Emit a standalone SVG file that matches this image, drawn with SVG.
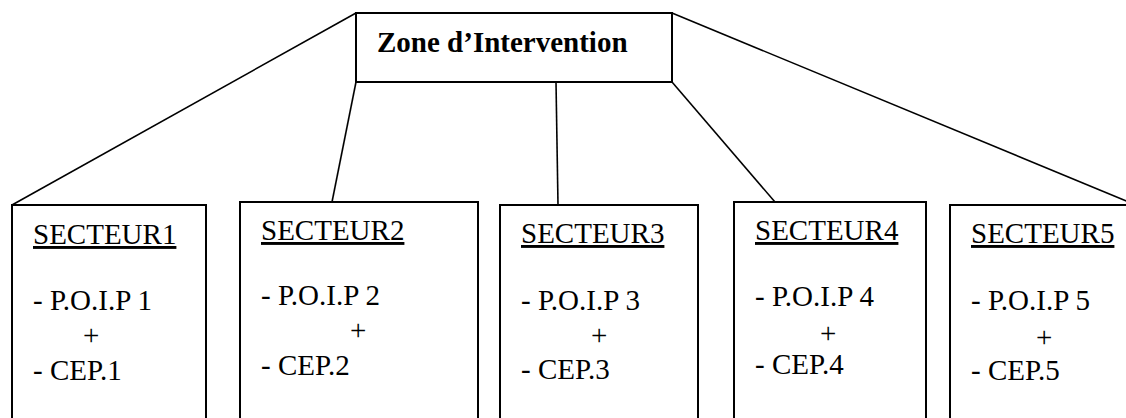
<svg xmlns="http://www.w3.org/2000/svg" width="1126" height="418" viewBox="0 0 1126 418">
<style>
.box{fill:#fff;stroke:#000;stroke-width:2}
.ln{stroke:#000;stroke-width:1.6;fill:none}
text{font-family:"Liberation Serif","Times New Roman",serif;font-size:29px;fill:#000}
.title{font-weight:bold}
.hd{text-decoration:underline}
</style>
<rect width="1126" height="418" fill="#fff"/>
<g id="connectors">
<line class="ln" x1="356" y1="13" x2="12" y2="205"/>
<line class="ln" x1="356" y1="82" x2="332" y2="202"/>
<line class="ln" x1="556" y1="82" x2="558" y2="205"/>
<line class="ln" x1="672" y1="82" x2="775" y2="202"/>
<line class="ln" x1="672" y1="13" x2="1136" y2="205"/>
</g>
<g id="zone">
<rect class="box" x="356" y="13" width="316" height="69"/>
<text class="title" x="377" y="52">Zone d’Intervention</text>
</g>
<g id="secteur1">
<rect class="box" x="12" y="205" width="194" height="230"/>
<text class="hd" x="33" y="244">SECTEUR1</text>
<text x="33" y="310">- P.O.I.P 1</text>
<text x="83" y="345">+</text>
<text x="33" y="380">- CEP.1</text>
</g>
<g id="secteur2">
<rect class="box" x="240" y="202" width="238" height="233"/>
<text class="hd" x="261" y="240">SECTEUR2</text>
<text x="261" y="305">- P.O.I.P 2</text>
<text x="350" y="340">+</text>
<text x="261" y="375">- CEP.2</text>
</g>
<g id="secteur3">
<rect class="box" x="500" y="205" width="198" height="230"/>
<text class="hd" x="521" y="243">SECTEUR3</text>
<text x="521" y="310">- P.O.I.P 3</text>
<text x="591" y="345">+</text>
<text x="521" y="379">- CEP.3</text>
</g>
<g id="secteur4">
<rect class="box" x="734" y="202" width="192" height="233"/>
<text class="hd" x="755" y="240">SECTEUR4</text>
<text x="755" y="306">- P.O.I.P 4</text>
<text x="820" y="343">+</text>
<text x="755" y="374">- CEP.4</text>
</g>
<g id="secteur5">
<rect class="box" x="950" y="205" width="200" height="230"/>
<text class="hd" x="971" y="243">SECTEUR5</text>
<text x="971" y="310">- P.O.I.P 5</text>
<text x="1036" y="347">+</text>
<text x="971" y="380">- CEP.5</text>
</g>
</svg>
